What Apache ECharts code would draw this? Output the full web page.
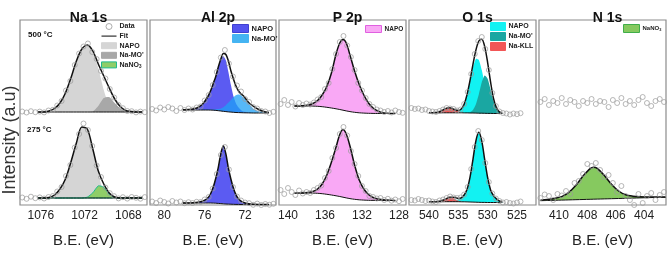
<!DOCTYPE html>
<html>
<head>
<meta charset="utf-8">
<script src="https://cdn.jsdelivr.net/npm/echarts@6/dist/echarts.min.js"></script>
<style>
  html, body { margin: 0; padding: 0; background: #fff; }
  #chart { width: 667px; height: 253px; }
</style>
</head>
<body>
<div id="chart"></div>
<script>
// panel titles and tick labels
const titles = ['Na 1s', 'Al 2p', 'P 2p', 'O 1s', 'N 1s'];
const naTicks = [1076, 1072, 1068];
const alTicks = [80, 76, 72];
const pTicks = [140, 136, 132, 128];
const oTicks = [540, 535, 530, 525];
const nTicks = [410, 408, 406, 404];

// ---- Na 1s ----
const naE = [1076.25, 1075.75, 1075.25, 1074.75, 1074.25, 1073.75, 1073.25, 1072.75, 1072.25, 1071.75,
  1071.25, 1070.75, 1070.25, 1069.75, 1069.25, 1068.75, 1068.25, 1067.75, 1067.25, 1066.75];
const naBase500 = [4, 4, 4, 4, 4, 4, 4, 4, 4, 4, 4, 4, 4, 4, 4, 4, 4, 4, 4, 4];
const naFit500 = [4, 4, 5, 7.5, 13, 23, 38, 55, 67, 71, 65, 52, 40, 28, 17, 9.5, 5.5, 4.5, 4, 4];
const naNapo500 = [0, 0, 1, 3.5, 9, 19, 33, 50, 62, 66, 60, 44, 22, 6, 1, 0, 0, 0, 0, 0];
const naMo500 = [0, 0, 0, 0, 0, 0, 0, 0, 0, 0, 0.5, 6, 14, 15, 9, 3.5, 1, 0, 0, 0];
const naBase275 = [15, 15, 15, 15, 15, 15, 15, 15, 15, 15, 15, 15, 15, 15, 15, 15, 15, 15, 15, 15];
const naFit275 = [15, 15, 15.5, 18, 24, 34, 51, 70, 86, 84, 64, 42, 29, 20, 16, 15, 15, 15, 15, 15];
const naNapo275 = [0, 0, 0.5, 3, 9, 19, 36, 55, 71, 69, 48, 24, 6, 1, 0, 0, 0, 0, 0, 0];
const naNo3275 = [0, 0, 0, 0, 0, 0, 0, 0, 0, 0.9, 5.2, 12.1, 10.8, 3.7, 0.5, 0, 0, 0, 0, 0];
const naDE = [1077.7, 1077.3, 1076.9, 1076.5, 1076.1, 1075.7, 1075.3, 1074.9, 1074.5, 1074.1, 1073.7, 1073.3,
  1072.9, 1072.5, 1072.1, 1071.7, 1071.3, 1070.9, 1070.5, 1070.1, 1069.7, 1069.3, 1068.9, 1068.5, 1068.1,
  1067.7, 1067.3, 1066.9, 1066.5];
const naData500 = [4.5, 3.5, 4.8, 3.8, 4.4, 3.6, 5.5, 6.2, 10.5, 15, 25.5, 35, 51, 62.5, 69.5, 72.5, 64, 57, 45,
  37.5, 27, 18.5, 11, 7.8, 5, 4.8, 3.6, 4.4, 3.8];
const naData275 = [15.5, 14.2, 16.3, 14.8, 15.6, 14.5, 16, 17, 21.5, 26, 37, 48, 65.5, 79, 89.5, 83, 67, 47.5, 36,
  25.5, 19.8, 16.8, 14.6, 15.8, 14.4, 16, 15.2, 14.3, 15.9];

// ---- Al 2p ----
const alE = [78.15, 77.65, 77.15, 76.65, 76.15, 75.65, 75.4, 75.15, 74.9, 74.65, 74.4, 74.15, 73.9, 73.65, 73.4,
  73.15, 72.9, 72.65, 72.4, 72.15, 71.65, 71.15, 70.65, 70.15, 69.65];
const alBase500 = [6, 6, 6, 6, 6, 6, 5.9, 5.8, 5.6, 5.3, 5, 4.7, 4.4, 4.1, 3.9, 3.7, 3.5, 3.4, 3.3, 3.2, 3.1, 3, 3, 3, 3];
const alFit500 = [6.2, 6.5, 7, 8.5, 12.5, 20, 25.5, 32.5, 39.5, 49, 57, 62.5, 61.5, 55, 45, 37, 30, 25, 22, 20,
  13.5, 9.5, 6.5, 4.5, 3.5];
const alNapo500 = [0.2, 0.5, 1, 2.5, 6.5, 14, 20, 27, 34.5, 44, 52, 55, 51, 40, 27, 16, 9, 5, 2.5, 1.2, 0.4, 0.1, 0, 0, 0];
const alMo500 = [0.1, 0.1, 0.1, 0.1, 0.2, 0.4, 0.5, 0.8, 1.2, 1.7, 2.6, 4.1, 6.4, 9.3, 12.2, 15.2, 17.3, 18, 17.3,
  15.2, 9.3, 4.1, 1.7, 0.8, 0.4];
const alBase275 = [10, 10, 10, 10, 10, 10, 10, 9.9, 9.8, 9.6, 9.4, 9.2, 9, 8.9, 8.8, 8.7, 8.6, 8.6, 8.5, 8.5, 8.5,
  8.5, 8.5, 8.5, 8.5];
const alFit275 = [10, 10.1, 10.3, 10.8, 12, 15.5, 19.5, 25.9, 34.8, 45.6, 59.4, 67.2, 59, 44.9, 33.8, 24.7, 18.1,
  14.1, 11.8, 10.5, 9.3, 8.8, 8.6, 8.5, 8.5];
const alNapo275 = [0, 0.1, 0.3, 0.8, 2, 5.5, 9.5, 16, 25, 36, 50, 58, 50, 36, 25, 16, 9.5, 5.5, 3.3, 2, 0.8, 0.3, 0.1, 0, 0];
const alDE = [81.2, 80.8, 80.4, 80.0, 79.6, 79.2, 78.8, 78.4, 78.0, 77.6, 77.2, 76.8, 76.4, 76.0, 75.6, 75.2, 74.8,
  74.4, 74.0, 73.6, 73.2, 72.8, 72.4, 72.0, 71.6, 71.2, 70.8, 70.4, 70.0, 69.6, 69.2];
const alData500 = [7, 5.5, 8.5, 6.5, 9, 7.5, 5, 8, 6, 7.5, 6.5, 8.5, 9.5, 15.5, 21, 31, 44, 58.5, 66, 52.5, 39.5,
  30.5, 24.5, 17, 14, 9, 7.5, 5, 4.5, 3, 4.2];
const alData275 = [11.5, 10, 12.5, 11, 9.5, 12, 10.5, 11.5, 9.8, 10.8, 10, 11.2, 11, 13.5, 16, 24.5, 39, 58, 66,
  43.5, 26, 16.5, 12.5, 10.5, 9.8, 8.2, 9.4, 8, 9, 8.3, 9.2];

// ---- P 2p ----
const pE = [139.3, 138.5, 137.8, 137.3, 136.8, 136.3, 135.8, 135.3, 134.8, 134.4, 134.05, 133.7, 133.3, 132.8,
  132.3, 131.8, 131.3, 130.8, 130.3, 129.8, 129.3, 128.8, 128.4];
const pBase500 = [10, 10, 10, 9.9, 9.7, 9.3, 8.7, 8, 7.2, 6.5, 5.8, 5.1, 4.4, 3.7, 3.2, 2.9, 2.7, 2.6, 2.5, 2.5, 2.5, 2.5, 2.5];
const pFit500 = [10, 10.2, 11, 12.5, 15.5, 21, 29.5, 43, 62, 73, 76.5, 73, 61, 45, 31.5, 21, 13, 8, 5, 3.3, 2.7, 2.5, 2.5];
const pNapo500 = [0, 0.2, 1, 2.6, 5.8, 11.7, 20.8, 35, 54.8, 66.5, 70.7, 67.9, 56.6, 41.3, 28.3, 18.1, 10.3, 5.4,
  2.5, 0.8, 0.2, 0, 0];
const pBase275 = [20, 20, 20, 19.9, 19.7, 19.3, 18.7, 18, 17.2, 16.5, 15.8, 15.1, 14.4, 13.7, 13.2, 12.9, 12.7,
  12.6, 12.5, 12.5, 12.5, 12.5, 12.5];
const pFit275 = [20, 20, 20.5, 21.5, 24, 29, 38, 51, 66, 78.5, 83.5, 79, 67, 48, 33, 24, 18.5, 15.5, 14, 13.3, 13, 12.7, 12.5];
const pNapo275 = [0, 0, 0.5, 1.6, 4.3, 9.7, 19.3, 33, 48.8, 62, 67.7, 63.9, 52.6, 34.3, 19.8, 11.1, 5.8, 2.9, 1.5,
  0.8, 0.5, 0.2, 0];
const pDE = [140.8, 140.4, 140.0, 139.6, 139.2, 138.8, 138.4, 138.0, 137.6, 137.2, 136.8, 136.4, 136.0, 135.6,
  135.2, 134.8, 134.4, 134.0, 133.6, 133.2, 132.8, 132.4, 132.0, 131.6, 131.2, 130.8, 130.4, 130.0, 129.6, 129.2,
  128.8, 128.4, 128.0, 127.6];
const pData500 = [12, 16, 11, 14, 9.5, 13, 11, 12.5, 11.5, 13.5, 16.5, 19, 27, 33, 47, 62, 74, 80, 70.5, 59, 46,
  33, 25.5, 18, 12, 9, 6.5, 5.5, 4, 5, 3.5, 5.5, 4, 3.2];
const pData275 = [23, 19, 25, 21, 18, 22.5, 19.5, 21, 20, 23, 25, 27.5, 35, 42, 55, 65, 79, 86, 77.5, 62, 49, 37,
  27, 22, 17, 16, 14.5, 15, 13, 14.2, 12.3, 13.5, 11.8, 14];

// ---- O 1s ----
const oE = [540, 539.5, 539, 538.5, 538, 537.5, 537, 536.5, 536, 535.5, 535, 534.5, 534, 533.5, 533, 532.5, 532,
  531.5, 531, 530.5, 530, 529.5, 529, 528.5, 528, 527.5];
const oBase500 = [3.2, 3.2, 3.2, 3.2, 3.2, 3.2, 3.2, 3.2, 3.2, 3.2, 3.2, 3.2, 3.1, 3.1, 3, 3, 2.9, 2.8, 2.8, 2.7,
  2.6, 2.6, 2.5, 2.5, 2.5, 2.5];
const oFit500 = [3.2, 3.2, 3.4, 3.8, 4.8, 6.3, 7.8, 8.2, 7.4, 6, 5.5, 7, 11.8, 21.6, 35.6, 51.7, 65.9, 75, 76.8,
  69.4, 53.4, 33.9, 17.7, 8.2, 4.1, 2.8];
const oNapo500 = [0, 0, 0, 0, 0, 0, 0, 0, 0.1, 0.3, 1.1, 3.4, 8.7, 18.3, 31.8, 45.7, 54.2, 53.2, 43.1, 28.9, 16.1,
  7.4, 2.8, 0.9, 0.2, 0];
const oMo500 = [0, 0, 0, 0, 0, 0, 0, 0, 0, 0, 0, 0, 0, 0.2, 0.8, 3, 8.8, 19, 30.9, 37.8, 34.7, 23.9, 12.4, 4.8, 1.4, 0.3];
const oKll500 = [0, 0, 0.2, 0.6, 1.6, 3.1, 4.6, 5, 4.1, 2.5, 1.2, 0.4, 0, 0, 0, 0, 0, 0, 0, 0, 0, 0, 0, 0, 0, 0];
const oBase275 = [11.3, 11.3, 11.3, 11.3, 11.3, 11.3, 11.3, 11.3, 11.3, 11.3, 11.3, 11.2, 11.2, 11.1, 11, 10.9,
  10.8, 10.7, 10.6, 10.6, 10.5, 10.5, 10.5, 10.5, 10.5, 10.5];
const oFit275 = [11.3, 11.3, 11.3, 11.5, 12, 13, 14.4, 15.7, 15.7, 15.4, 14.6, 15.1, 18, 23.7, 35.8, 53.6, 72.1,
  80.7, 71.9, 53.3, 35.3, 23.1, 17.3, 14.1, 12, 11];
const oNapo275 = [0, 0, 0, 0, 0, 0, 0, 0.4, 0.8, 1.8, 2.3, 3.6, 6.8, 12.6, 24.8, 42.7, 61.3, 70, 61.3, 42.7, 24.8,
  12.6, 6.8, 3.6, 1.5, 0.5];
const oKll275 = [0, 0, 0, 0.2, 0.7, 1.7, 3.1, 4, 3.6, 2.3, 1, 0.3, 0, 0, 0, 0, 0, 0, 0, 0, 0, 0, 0, 0, 0, 0];
const oDE = [543, 542.4, 541.8, 541.2, 540.6, 540, 539.4, 538.8, 538.2, 537.6, 537, 536.4, 535.8, 535.2, 534.6,
  534, 533.4, 532.8, 532.2, 531.6, 531, 530.4, 529.8, 529.2, 528.6, 528, 527.4, 526.8, 526.2, 525.6, 525, 524.4];
const oData500 = [8, 7, 7.5, 6, 6.5, 5, 4.5, 4, 5, 6.5, 8, 7.5, 7, 5.5, 6.5, 12, 24, 42, 62, 75, 79, 67, 46, 23,
  10, 4.5, 3, 2.5, 1.5, 2.5, 1.8, 2.8];
const oData275 = [13, 12.5, 14, 13, 12, 12.5, 11.5, 11, 12.5, 13.5, 15, 16.5, 15.5, 15, 15.5, 18.5, 26, 44, 66,
  82, 73, 50, 31, 19.5, 14.5, 12, 10.5, 11, 10, 9.5, 10.5, 11.5];

// ---- N 1s ----
const nE = [411.3, 410.8, 410.3, 409.8, 409.3, 408.8, 408.3, 407.8, 407.55, 407.3, 406.8, 406.3, 405.8, 405.3,
  404.8, 404.3, 403.8, 403.3, 402.8, 402.5];
const nBase275 = [12.3, 12.5, 12.7, 12.9, 13.1, 13.3, 13.5, 13.7, 13.8, 13.9, 14.1, 14.3, 14.5, 14.7, 14.9, 15.1,
  15.3, 15.5, 15.6, 15.7];
const nFit275 = [12.8, 13.6, 14.6, 16.4, 20.6, 27.7, 36.9, 44.4, 45.8, 44.6, 37.5, 28.7, 22, 18.2, 16.8, 16.2,
  16.1, 16, 15.9, 15.9];
const nNo3275 = [0.5, 1.1, 1.9, 3.5, 7.5, 14.4, 23.4, 30.7, 32, 30.7, 23.4, 14.4, 7.5, 3.5, 1.9, 1.1, 0.8, 0.5, 0.3, 0.2];
const nDE = [411.3, 411.0, 410.7, 410.4, 410.1, 409.8, 409.5, 409.2, 408.9, 408.6, 408.3, 408.0, 407.7, 407.4,
  407.1, 406.8, 406.5, 406.2, 405.9, 405.6, 405.3, 405.0, 404.7, 404.4, 404.1, 403.8, 403.5, 403.2, 402.9, 402.6];
const nData500 = [14, 17, 11, 15, 13, 18, 12, 16, 14, 10, 15, 13, 17, 12, 15, 14, 9, 16, 13, 18, 12, 15, 11, 16,
  19, 13, 10, 15, 17, 14];
const nData275 = [15, 18.5, 17, 13, 19, 17.5, 22, 19, 30, 32, 39, 49, 47, 50, 43, 36, 38, 30, 21, 27, 17, 13, 8,
  19, 10, 17, 20, 13, 18, 21];

const FONT = 'Liberation Sans, Arial, sans-serif';

// panel layout: left edge, width, energy range (high -> low)
const panels = [
  { left: 20, width: 127, max: 1077.9, min: 1066.3, ticks: naTicks },
  { left: 150, width: 126, max: 81.41, min: 68.94, ticks: alTicks },
  { left: 279, width: 127, max: 140.97, min: 127.24, ticks: pTicks },
  { left: 409, width: 127, max: 543.4, min: 521.76, ticks: oTicks },
  { left: 539, width: 127, max: 411.4, min: 402.46, ticks: nTicks }
];

const grids = [], xAxes = [], yAxes = [];
panels.forEach((p, i) => {
  // frame with tick labels, then top (500) and bottom (275) plot areas
  grids.push({ left: p.left, top: 20, width: p.width, height: 193, show: true, borderColor: '#8c8c8c', borderWidth: 1.2 });
  grids.push({ left: p.left, top: 20, width: p.width, height: 100 });
  grids.push({ left: p.left, top: 116, width: p.width, height: 97 });
  xAxes.push({
    type: 'value', gridIndex: 3 * i, min: p.min, max: p.max, inverse: true,
    axisLine: { show: false }, axisTick: { show: false }, splitLine: { show: false },
    axisLabel: { customValues: p.ticks, formatter: v => String(v), fontSize: 12, color: '#222', margin: 5, fontFamily: FONT },
    name: 'B.E. (eV)', nameLocation: 'middle', nameGap: 28,
    nameTextStyle: { fontSize: 15, color: '#222', fontFamily: FONT }
  });
  yAxes.push({ type: 'value', gridIndex: 3 * i, min: 0, max: 1, show: false });
  for (let k = 1; k <= 2; k++) {
    xAxes.push({ type: 'value', gridIndex: 3 * i + k, min: p.min, max: p.max, inverse: true, show: false });
    yAxes.push({ type: 'value', gridIndex: 3 * i + k, min: k === 1 ? -4 : 0, max: k === 1 ? 96 : 97, show: false });
  }
});

function pts(xs, ys) { return xs.map((x, i) => [x, ys[i]]); }

// filled component: polygon between the baseline and baseline + component
function area(name, ax, xs, base, comp, fill, edge) {
  return {
    name: name, type: 'custom', xAxisIndex: ax, yAxisIndex: ax, data: [[xs[0], base[0]]], silent: true, z: 2,
    itemStyle: { color: fill },
    renderItem: (params, api) => {
      const top = xs.map((x, i) => api.coord([x, base[i] + comp[i]]));
      const bottom = xs.map((x, i) => api.coord([x, base[i]])).reverse();
      return {
        type: 'polygon', shape: { points: top.concat(bottom), smooth: 0.2 },
        style: { fill: fill, stroke: edge || null, lineWidth: edge ? 1 : 0 }
      };
    }
  };
}
function curve(name, ax, xs, ys, w) {
  return { name: name, type: 'line', xAxisIndex: ax, yAxisIndex: ax, data: pts(xs, ys), smooth: 0.3,
    symbol: 'none', lineStyle: { color: '#111', width: w }, itemStyle: { color: '#111' }, silent: true, z: 3 };
}
function dots(name, ax, xs, ys) {
  return { name: name, type: 'scatter', xAxisIndex: ax, yAxisIndex: ax, data: pts(xs, ys), symbol: 'circle',
    symbolSize: 5, itemStyle: { color: 'rgba(0,0,0,0)', borderColor: '#9a9a9a', borderWidth: 0.9 }, silent: true, z: 4 };
}

const series = [
  area('na-napo', 1, naE, naBase500, naNapo500, '#d5d5d5'),
  area('na-mo', 1, naE, naBase500, naMo500, '#a8a8a8'),
  curve('na-base1', 1, naE, naBase500, 1), curve('na-fit', 1, naE, naFit500, 1.5), dots('na-data', 1, naDE, naData500),
  area('na-napo2', 2, naE, naBase275, naNapo275, '#d5d5d5'),
  area('na-no3', 2, naE, naBase275, naNo3275, '#8fcd68', '#1fba8e'),
  curve('na-base2', 2, naE, naBase275, 1), curve('na-fit2', 2, naE, naFit275, 1.5), dots('na-data2', 2, naDE, naData275),

  area('al-napo', 4, alE, alBase500, alNapo500, '#5b5bf2'),
  area('al-mo', 4, alE, alBase500, alMo500, 'rgba(30,160,245,0.75)'),
  curve('al-base1', 4, alE, alBase500, 1), curve('al-fit', 4, alE, alFit500, 1.5), dots('al-data', 4, alDE, alData500),
  area('al-napo2', 5, alE, alBase275, alNapo275, '#5b5bf2'),
  curve('al-base2', 5, alE, alBase275, 1), curve('al-fit2', 5, alE, alFit275, 1.5), dots('al-data2', 5, alDE, alData275),

  area('p-napo', 7, pE, pBase500, pNapo500, '#f9a8f5'),
  curve('p-base1', 7, pE, pBase500, 1), curve('p-fit', 7, pE, pFit500, 1.5), dots('p-data', 7, pDE, pData500),
  area('p-napo2', 8, pE, pBase275, pNapo275, '#f9a8f5'),
  curve('p-base2', 8, pE, pBase275, 1), curve('p-fit2', 8, pE, pFit275, 1.5), dots('p-data2', 8, pDE, pData275),

  area('o-napo', 10, oE, oBase500, oNapo500, '#12f2f2'),
  area('o-mo', 10, oE, oBase500, oMo500, '#1aa7a2'),
  area('o-kll', 10, oE, oBase500, oKll500, '#f25656'),
  curve('o-base1', 10, oE, oBase500, 1), curve('o-fit', 10, oE, oFit500, 1.5), dots('o-data', 10, oDE, oData500),
  area('o-napo2', 11, oE, oBase275, oNapo275, '#12f2f2'),
  area('o-kll2', 11, oE, oBase275, oKll275, '#f25656'),
  curve('o-base2', 11, oE, oBase275, 1), curve('o-fit2', 11, oE, oFit275, 1.5), dots('o-data2', 11, oDE, oData275),

  dots('n-data', 13, nDE, nData500),
  area('n-no3', 14, nE, nBase275, nNo3275, '#86c95f'),
  curve('n-base2', 14, nE, nBase275, 1), curve('n-fit2', 14, nE, nFit275, 1.5), dots('n-data2', 14, nDE, nData275)
];

const labels = {
  'na-data': 'Data', 'na-fit': 'Fit', 'na-napo': 'NAPO', 'na-mo': "Na-MO'", 'na-no3': '{t|NaNO}{s|3}',
  'al-napo': 'NAPO', 'al-mo': "Na-MO'", 'p-napo': 'NAPO',
  'o-napo': 'NAPO', 'o-mo': "Na-MO'", 'o-kll': 'Na-KLL', 'n-no3': '{t|NaNO}{s|3}'
};
function box(name, fill, border) {
  return { name: name, icon: 'rect', itemStyle: { color: fill, borderColor: border || fill, borderWidth: 1 } };
}
function legendAt(left, top, fs, w, h, gap, data) {
  return {
    left: left, top: top, orient: 'vertical', itemWidth: w, itemHeight: h, itemGap: gap, padding: 0,
    selectedMode: false, data: data, formatter: n => labels[n],
    textStyle: {
      fontSize: fs, fontWeight: 'bold', color: '#222', fontFamily: FONT, padding: [0, 0, 0, -2],
      rich: {
        t: { fontSize: fs, fontWeight: 'bold', color: '#222', fontFamily: FONT },
        s: { fontSize: fs * 0.65, fontWeight: 'bold', color: '#222', fontFamily: FONT, padding: [fs * 0.45, 0, 0, 0] }
      }
    }
  };
}

const option = {
  animation: false,
  textStyle: { fontFamily: FONT },
  title: titles.map((t, i) => ({
    text: t, left: panels[i].left + panels[i].width / 2, top: 6, textAlign: 'center',
    textStyle: { fontSize: 14, fontWeight: 'bold', color: '#111', fontFamily: FONT }
  })),
  grid: grids,
  xAxis: xAxes,
  yAxis: yAxes,
  legend: [
    legendAt(101, 23, 7, 15, 6, 2.6, [
      { name: 'na-data', icon: 'circle', itemStyle: { color: 'rgba(0,0,0,0)', borderColor: '#999', borderWidth: 1 } },
      { name: 'na-fit', icon: 'path://M0,0L40,0L40,3L0,3Z', itemStyle: { color: '#222', borderWidth: 0 } },
      box('na-napo', '#d5d5d5'), box('na-mo', '#a8a8a8'), box('na-no3', '#8fcd68', '#1fba8e')
    ]),
    legendAt(232, 24, 7.5, 16, 8, 1, [box('al-napo', '#5353ef', '#4040d0'), box('al-mo', '#45b4f2')]),
    legendAt(365, 25, 6.5, 16, 7, 1, [box('p-napo', '#f9a8f5', '#e060e0')]),
    legendAt(490, 22, 7, 15, 8, 1, [box('o-napo', '#12f2f2'), box('o-mo', '#1aa7a2'), box('o-kll', '#f25656')]),
    legendAt(623, 24, 6, 16, 8, 1, [box('n-no3', '#86c95f', '#3fae4a')])
  ],
  graphic: [
    { type: 'text', left: 28, top: 31, style: { text: '500 °C', font: 'bold 8px ' + FONT, fill: '#111' } },
    { type: 'text', left: 27, top: 126, style: { text: '275 °C', font: 'bold 8px ' + FONT, fill: '#111' } },
    { type: 'text', x: 10, y: 140, rotation: Math.PI / 2,
      style: { text: 'Intensity (a.u)', font: '18px ' + FONT, fill: '#333', align: 'center', verticalAlign: 'middle' } }
  ],
  series: series
};

const myChart = echarts.init(document.getElementById('chart'));
myChart.setOption(option);
</script>
</body>
</html>
